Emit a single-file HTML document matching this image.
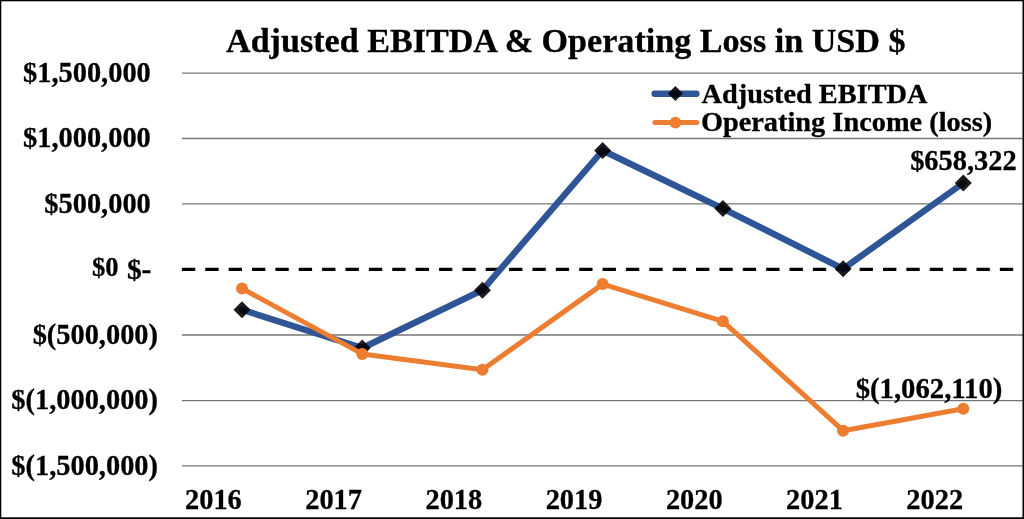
<!DOCTYPE html>
<html><head><meta charset="utf-8"><title>Adjusted EBITDA &amp; Operating Loss</title>
<style>
html,body{margin:0;padding:0;background:#fff;}
body{width:1024px;height:519px;overflow:hidden;font-family:"Liberation Serif",serif;}
svg{display:block;will-change:transform;}
text{font-family:"Liberation Serif",serif;font-weight:bold;fill:#000;stroke:#000;stroke-width:0.3px;stroke-linejoin:round;}
</style></head><body>
<svg width="1024" height="519" viewBox="0 0 1024 519">
<rect x="0" y="0" width="1024" height="519" fill="#fff"/>
<line x1="181.9" x2="1023" y1="73.10" y2="73.10" stroke="#767676" stroke-width="1.35"/>
<line x1="181.9" x2="1023" y1="138.50" y2="138.50" stroke="#767676" stroke-width="1.35"/>
<line x1="181.9" x2="1023" y1="203.90" y2="203.90" stroke="#767676" stroke-width="1.35"/>
<line x1="181.9" x2="1023" y1="334.95" y2="334.95" stroke="#767676" stroke-width="1.35"/>
<line x1="181.9" x2="1023" y1="400.60" y2="400.60" stroke="#767676" stroke-width="1.35"/>
<line x1="181.9" x2="1023" y1="465.90" y2="465.90" stroke="#767676" stroke-width="1.35"/>
<line x1="181.9" x2="1020" y1="269.45" y2="269.45" stroke="#000" stroke-width="3.2" stroke-dasharray="13.35 10.02"/>
<polyline points="242.00,309.70 362.22,348.00 482.44,290.20 602.66,150.50 722.88,208.60 843.10,268.80 963.32,183.00" fill="none" stroke="#2F5597" stroke-width="6.4" stroke-linejoin="round" stroke-linecap="round"/>
<path d="M233.50 309.70L242.00 301.20L250.50 309.70L242.00 318.20Z" fill="#000" fill-opacity="0.89"/>
<path d="M353.72 348.00L362.22 339.50L370.72 348.00L362.22 356.50Z" fill="#000" fill-opacity="0.89"/>
<path d="M473.94 290.20L482.44 281.70L490.94 290.20L482.44 298.70Z" fill="#000" fill-opacity="0.89"/>
<path d="M594.16 150.50L602.66 142.00L611.16 150.50L602.66 159.00Z" fill="#000" fill-opacity="0.89"/>
<path d="M714.38 208.60L722.88 200.10L731.38 208.60L722.88 217.10Z" fill="#000" fill-opacity="0.89"/>
<path d="M834.60 268.80L843.10 260.30L851.60 268.80L843.10 277.30Z" fill="#000" fill-opacity="0.89"/>
<path d="M954.82 183.00L963.32 174.50L971.82 183.00L963.32 191.50Z" fill="#000" fill-opacity="0.89"/>
<polyline points="242.00,288.50 362.22,353.90 482.44,369.80 602.66,284.10 722.88,321.30 843.10,430.70 963.32,408.70" fill="none" stroke="#ED7D31" stroke-width="5" stroke-linejoin="round" stroke-linecap="round"/>
<circle cx="242.00" cy="288.50" r="6.0" fill="#ED7D31"/>
<circle cx="362.22" cy="353.90" r="6.0" fill="#ED7D31"/>
<circle cx="482.44" cy="369.80" r="6.0" fill="#ED7D31"/>
<circle cx="602.66" cy="284.10" r="6.0" fill="#ED7D31"/>
<circle cx="722.88" cy="321.30" r="6.0" fill="#ED7D31"/>
<circle cx="843.10" cy="430.70" r="6.0" fill="#ED7D31"/>
<circle cx="963.32" cy="408.70" r="6.0" fill="#ED7D31"/>
<line x1="654.6" x2="696.4" y1="93.7" y2="93.7" stroke="#2F5597" stroke-width="6.4" stroke-linecap="round"/>
<path d="M667.90 93.50L675.40 86.00L682.90 93.50L675.40 101.00Z" fill="#000" fill-opacity="0.89"/>
<line x1="654.9" x2="696.9" y1="122.6" y2="122.6" stroke="#ED7D31" stroke-width="5" stroke-linecap="round"/>
<circle cx="675.4" cy="122.6" r="5.95" fill="#ED7D31"/>
<text x="565.75" y="52" font-size="34.12" text-anchor="middle">Adjusted EBITDA &amp; Operating Loss in USD $</text>
<text x="150.8" y="81.80" font-size="28.4" text-anchor="end">$1,500,000</text>
<text x="150.8" y="147.20" font-size="28.4" text-anchor="end">$1,000,000</text>
<text x="150.8" y="212.60" font-size="28.4" text-anchor="end">$500,000</text>
<text x="158.0" y="343.65" font-size="28.4" text-anchor="end">$(500,000)</text>
<text x="158.0" y="409.30" font-size="28.4" text-anchor="end">$(1,000,000)</text>
<text x="158.0" y="474.60" font-size="28.4" text-anchor="end">$(1,500,000)</text>
<text x="91.9" y="275.6" font-size="26.6">$0</text>
<text x="126.9" y="279.1" font-size="29.4">$-</text>
<text x="213.40" y="508.5" font-size="28.4" text-anchor="middle">2016</text>
<text x="333.62" y="508.5" font-size="28.4" text-anchor="middle">2017</text>
<text x="453.84" y="508.5" font-size="28.4" text-anchor="middle">2018</text>
<text x="574.06" y="508.5" font-size="28.4" text-anchor="middle">2019</text>
<text x="694.28" y="508.5" font-size="28.4" text-anchor="middle">2020</text>
<text x="814.50" y="508.5" font-size="28.4" text-anchor="middle">2021</text>
<text x="934.72" y="508.5" font-size="28.4" text-anchor="middle">2022</text>
<text x="963.4" y="170.0" font-size="28.4" text-anchor="middle">$658,322</text>
<text x="929.0" y="397.5" font-size="28.7" text-anchor="middle">$(1,062,110)</text>
<text x="701.5" y="102.6" font-size="28.35">Adjusted EBITDA</text>
<text x="700.9" y="131" font-size="28.35">Operating Income (loss)</text>
<rect x="893.65" y="20.61" width="6.82" height="7.78" fill="#fff"/>
<rect x="27.26" y="55.67" width="5.68" height="6.48" fill="#fff"/>
<rect x="27.26" y="121.07" width="5.68" height="6.48" fill="#fff"/>
<rect x="48.56" y="186.47" width="5.68" height="6.48" fill="#fff"/>
<rect x="36.84" y="317.52" width="5.68" height="6.48" fill="#fff"/>
<rect x="15.54" y="383.17" width="5.68" height="6.48" fill="#fff"/>
<rect x="15.54" y="448.47" width="5.68" height="6.48" fill="#fff"/>
<rect x="95.89" y="251.13" width="5.32" height="6.06" fill="#fff"/>
<rect x="131.31" y="252.05" width="5.88" height="6.70" fill="#fff"/>
<rect x="914.41" y="143.87" width="5.68" height="6.48" fill="#fff"/>
<rect x="859.96" y="371.10" width="5.74" height="6.54" fill="#fff"/>
<rect x="0" y="0" width="1024" height="1.3" fill="#000"/>
<rect x="0" y="0" width="1.3" height="519" fill="#000"/>
<rect x="1022.5" y="0" width="1.5" height="519" fill="#000"/>
<rect x="0" y="517.3" width="1024" height="1.7" fill="#000"/>
</svg></body></html>
